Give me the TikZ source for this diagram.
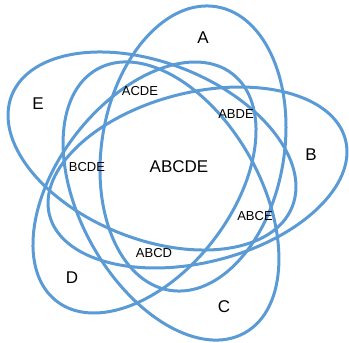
\documentclass[tikz,border=0pt]{standalone}
\usepackage{fontspec}
\setmainfont{Liberation Sans}
\definecolor{setblue}{RGB}{91,155,213}
\begin{document}
\begin{tikzpicture}[x=1pt,y=-1pt,
  set/.style={draw=setblue,line width=3pt},
  setlabel/.style={font=\fontsize{17}{17}\selectfont},
  region/.style={font=\fontsize{13}{13}\selectfont}]
  \useasboundingbox (0,0) rectangle (349,343);

  % one ellipse per set: centre x/centre y/tilt/long radius/short radius
  \foreach \cx/\cy/\tilt/\ra/\rb in {193/148.5/80.6/143.7/91.2, 197.5/177.5/14.25/152.7/84.9,
      171/201/-60.8/151.1/90.3, 144.5/187.5/52.3/143.7/86.8, 152/151/-21.65/150.9/88.1}{
    \draw[set,shift={(\cx,\cy)},rotate=\tilt] (0,0) ellipse [x radius=\ra pt, y radius=\rb pt];
  }

  \node[setlabel] (setA) at (203,38) {A};
  \node[setlabel] (setB) at (311,155) {B};
  \node[setlabel] (setC) at (224,307) {C};
  \node[setlabel] (setD) at (72,278) {D};
  \node[setlabel] (setE) at (38,104) {E};

  \node[setlabel] (abcde) at (179,167) {ABCDE};
  \node[region] (acde) at (140,91) {ACDE};
  \node[region] (abde) at (236,114) {ABDE};
  \node[region] (abce) at (255,216) {ABCE};
  \node[region] (abcd) at (154,253) {ABCD};
  \node[region] (bcde) at (87,167) {BCDE};
\end{tikzpicture}
\end{document}
